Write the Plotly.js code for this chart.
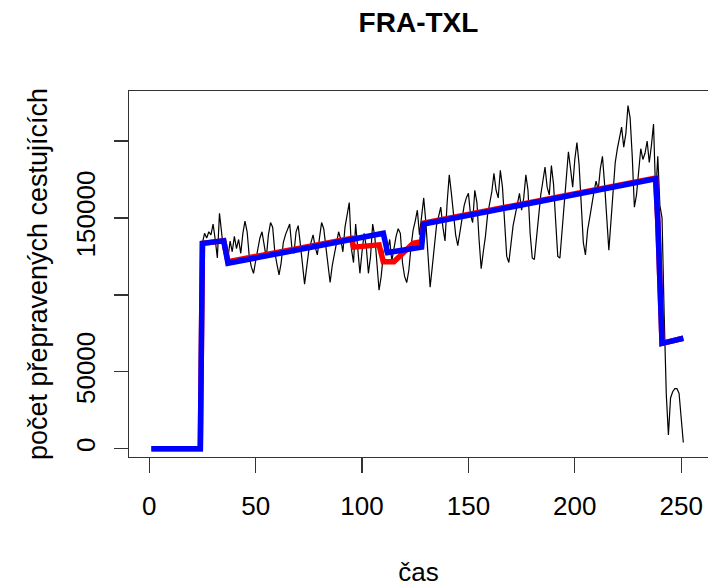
<!DOCTYPE html>
<html>
<head>
<meta charset="utf-8">
<script src="https://cdn.plot.ly/plotly-3.0.1.min.js"></script>
<style>html,body{margin:0;padding:0;background:#fff;overflow:hidden}</style>
</head>
<body>
<div id="chart" style="width:708px;height:587px"></div>
<script>
// ---- data ----
const chartTitle = "FRA-TXL";
const xTitle = "čas";
const yTitle = "počet přepravených cestujících";

// observed passenger counts, time index 25..251
const observedStart = 25;
const observed = [
  134000,140000,137000,141000,139000,146000,136000,124000,153000,142000,128000,131000,
  124000,135000,128000,138000,130000,136000,127000,140000,148000,141000,125000,118000,
  114000,122000,131000,137000,141000,133000,124000,139000,147000,144000,128000,120000,
  113000,121000,134000,139000,143000,146000,131000,127000,141000,145000,133000,118000,
  107000,118000,129000,134000,139000,131000,126000,137000,147000,143000,130000,117000,
  108000,119000,127000,134000,141000,136000,128000,144000,152000,160000,130000,121000,
  146000,130000,114000,128000,140000,131000,114000,125000,146000,138000,118000,103000,
  112000,126000,133000,128000,136000,122000,130000,138000,143000,140000,121000,112000,
  108000,116000,131000,142000,148000,155000,139000,150000,163000,147000,124000,105000,
  118000,131000,145000,151000,157000,144000,135000,160000,178000,166000,150000,139000,
  132000,141000,152000,158000,163000,166000,152000,147000,168000,160000,136000,117000,
  128000,138000,152000,160000,167000,179000,168000,163000,181000,170000,145000,125000,
  121000,133000,145000,152000,160000,166000,155000,163000,178000,168000,140000,124000,
  123000,138000,152000,165000,174000,183000,170000,165000,184000,172000,148000,125000,
  124000,140000,160000,175000,193000,182000,170000,188000,199000,185000,158000,134000,
  126000,142000,150000,160000,167000,174000,168000,182000,190000,172000,150000,129000,
  148000,170000,186000,195000,202000,209000,196000,205000,223000,215000,190000,157000,
  165000,180000,195000,188000,192000,200000,186000,197000,211000,165000,190000,158000,
  150000,87000,35000,9000,33000,37000,39000,39000,36000,20000,4000
];

// model fit (red) vertices
const redT = [1,24,25,35,37,95,96,108,110,115,124,128,129,238,239,240,241,251];
const redV = [0,0,133500,135200,121600,136700,131000,132500,121500,121500,133500,134500,146700,175900,148000,95500,68500,71800];

// model fit (blue) vertices
const blueT = [1,24,25,35,37,110,112,128,129,238,239,240,241,251];
const blueV = [0,0,133500,135200,120500,140000,127500,131000,146000,175500,148000,95500,68500,71800];

const yTickVals = [0,50000,100000,150000,200000];
const yTickText = ["0","50000","","150000",""];
const xTickVals = [0,50,100,150,200,250];

// ---- chart ----
const obsT = observed.map((_, i) => observedStart + i);
const FONT = "Liberation Sans, Arial, Helvetica, sans-serif";

const traces = [
  {x: obsT, y: observed, type: "scatter", mode: "lines",
   line: {color: "#000000", width: 1.2}, hoverinfo: "skip"},
  {x: redT, y: redV, type: "scatter", mode: "lines",
   line: {color: "#ff0000", width: 5.5}, hoverinfo: "skip"},
  {x: blueT, y: blueV, type: "scatter", mode: "lines",
   line: {color: "#0000ff", width: 5.5}, hoverinfo: "skip"}
];

const layout = {
  width: 708, height: 587,
  margin: {l: 129, r: 0, t: 91, b: 130},
  paper_bgcolor: "#ffffff", plot_bgcolor: "#ffffff",
  showlegend: false,
  font: {family: FONT, color: "#000000", size: 26},
  title: {text: chartTitle, font: {family: FONT, size: 28, weight: 700, color: "#000"},
          x: 0.5, xref: "paper", xanchor: "center", y: 0.962, yref: "container", yanchor: "middle"},
  xaxis: {
    range: [-9.52, 262.6], tickmode: "array", tickvals: xTickVals,
    ticks: "outside", ticklen: 15, tickwidth: 1.3, tickcolor: "#333",
    showline: true, mirror: true, linecolor: "#333", linewidth: 1.3,
    showgrid: false, zeroline: false,
    tickfont: {family: FONT, size: 26, color: "#000"},
    ticklabelstandoff: 10,
    title: {text: xTitle, font: {family: FONT, size: 26, color: "#000"}, standoff: 44}
  },
  yaxis: {
    range: [-5395, 232505], tickmode: "array", tickvals: yTickVals, ticktext: yTickText,
    tickangle: -90,
    ticks: "outside", ticklen: 14, tickwidth: 1.3, tickcolor: "#333",
    showline: true, mirror: true, linecolor: "#333", linewidth: 1.3,
    showgrid: false, zeroline: false,
    tickfont: {family: FONT, size: 26, color: "#000"},
    ticklabelstandoff: 8,
    title: {text: yTitle, font: {family: FONT, size: 27, color: "#000"}, standoff: 15}
  }
};

Plotly.newPlot("chart", traces, layout, {displayModeBar: false, staticPlot: true});
</script>
</body>
</html>
